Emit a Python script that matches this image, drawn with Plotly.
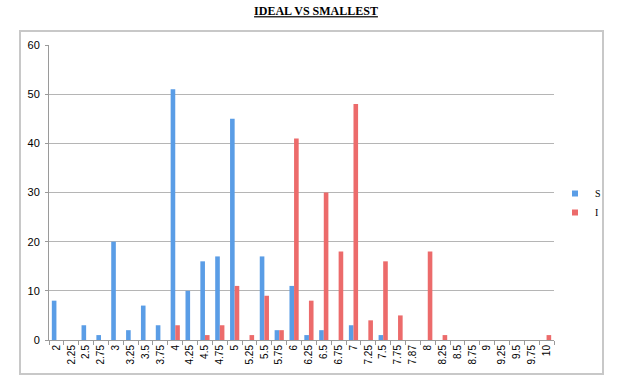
import plotly.graph_objects as go

categories = ["2", "2.25", "2.5", "2.75", "3", "3.25", "3.5", "3.75", "4", "4.25",
              "4.5", "4.75", "5", "5.25", "5.5", "5.75", "6", "6.25", "6.5", "6.75",
              "7", "7.25", "7.5", "7.75", "7.87", "8", "8.25", "8.5", "8.75", "9",
              "9.25", "9.5", "9.75", "10"]
s_values = [8, 0, 3, 1, 20, 2, 7, 3, 51, 10,
            16, 17, 45, 0, 17, 2, 11, 1, 2, 0,
            3, 0, 1, 0, 0, 0, 0, 0, 0, 0,
            0, 0, 0, 0]
i_values = [0, 0, 0, 0, 0, 0, 0, 0, 3, 0,
            1, 3, 11, 1, 9, 2, 41, 8, 30, 18,
            48, 4, 16, 5, 0, 18, 1, 0, 0, 0,
            0, 0, 0, 1]
y_ticks = [0, 10, 20, 30, 40, 50, 60]

S_COLOR = "#5a9de6"
I_COLOR = "#ec6b6b"

fig = go.Figure()
fig.add_trace(go.Bar(x=categories, y=s_values, name="S", showlegend=False,
                     marker=dict(color=S_COLOR, line=dict(width=0))))
fig.add_trace(go.Bar(x=categories, y=i_values, name="I", showlegend=False,
                     marker=dict(color=I_COLOR, line=dict(width=0))))
# legend entries with small square symbols
fig.add_trace(go.Scatter(x=[None], y=[None], mode="markers", name="S",
                         marker=dict(symbol="square", size=6, color=S_COLOR)))
fig.add_trace(go.Scatter(x=[None], y=[None], mode="markers", name="I",
                         marker=dict(symbol="square", size=6, color=I_COLOR)))

W, H = 623, 384
PL, PR, PT, PB = 49, 554, 45, 340  # plot area in window pixels
L, T, R, B = PL, PT, W - PR, H - PB
pw = W - L - R
ph = H - T - B

def px_x(p):
    return (p - PL) / pw

def px_y(p):
    return (PB - p) / ph

fig.update_layout(
    width=W, height=H,
    margin=dict(l=L, r=R, t=T, b=B, autoexpand=False),
    paper_bgcolor="white", plot_bgcolor="white",
    barmode="group", bargap=0.38, bargroupgap=0,
    title=dict(text="<b><u>IDEAL VS SMALLEST</u></b>", x=316 / W,
               xanchor="center", xref="container",
               y=1 - 11 / H, yanchor="middle",
               font=dict(family="Liberation Serif", size=12, color="black")),
    font=dict(family="Liberation Sans", size=11, color="black"),
    showlegend=True,
    legend=dict(x=px_x(555), y=px_y(203), xanchor="left", yanchor="middle",
                font=dict(size=10, family="Liberation Serif"),
                bgcolor="rgba(0,0,0,0)", tracegroupgap=4, itemwidth=30),
    xaxis=dict(type="category", tickangle=-90, tickfont=dict(size=10),
               automargin=False,
               showline=True, linecolor="#9a9a9a", linewidth=1,
               ticks="outside", tickson="boundaries", ticklen=4, tickcolor="#9a9a9a",
               showgrid=False),
    yaxis=dict(range=[0, 60], tickvals=y_ticks, showline=True, linecolor="#9a9a9a",
               automargin=False,
               linewidth=1, ticks="outside", ticklen=3, tickcolor="#9a9a9a",
               ticklabelstandoff=3,
               showgrid=True, gridcolor="#b5b5b5", gridwidth=1, zeroline=False,
               tickfont=dict(size=11)),
    shapes=[dict(type="rect", xref="paper", yref="paper",
                 x0=px_x(20), x1=px_x(603), y0=px_y(374), y1=px_y(31),
                 line=dict(color="#c8c8c8", width=2), fillcolor="rgba(0,0,0,0)",
                 layer="below")],
)

fig.write_html("out.html", config={"displayModeBar": False},
               post_script="document.body.style.margin='0';document.body.style.overflow='hidden';")
